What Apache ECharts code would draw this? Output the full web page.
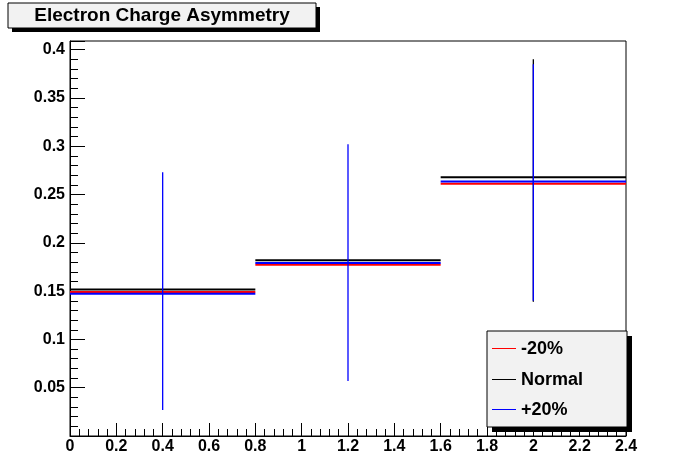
<!DOCTYPE html>
<html>
<head>
<meta charset="utf-8">
<script src="https://cdn.jsdelivr.net/npm/echarts@6/dist/echarts.min.js"></script>
<style>html,body{margin:0;background:#fff}#chartDom{width:696px;height:474px}</style>
</head>
<body>
<div id="chartDom"></div>
<script>
// bins: [low edge, high edge]
const binEdges = [[0, 0.8], [0.8, 1.6], [1.6, 2.4]];
const minus20 = [0.1492, 0.1772, 0.2612];
const normal = [0.1517, 0.182, 0.268];
const normalErrLo = [null, null, 0.139];
const normalErrHi = [null, null, 0.390];
const plus20 = [0.1472, 0.1792, 0.2634];
const plus20ErrLo = [0.027, 0.057, 0.140];
const plus20ErrHi = [0.273, 0.302, 0.385];

const font = '"Liberation Sans", Arial, sans-serif';

function binSeries(name, color, vals, lo, hi, z) {
  const data = binEdges.map((b, i) => [b[0], b[1], vals[i], lo ? lo[i] : null, hi ? hi[i] : null]);
  return {
    name, type: 'custom', z, data,
    renderItem: (params, api) => {
      const x0 = api.value(0), x1 = api.value(1), y = api.value(2);
      const a = api.coord([x0, y]), b = api.coord([x1, y]);
      const children = [{ type: 'line', shape: { x1: a[0], y1: a[1], x2: b[0], y2: b[1] }, style: { stroke: color, lineWidth: 2 } }];
      const elo = api.value(3), ehi = api.value(4);
      if (!isNaN(elo) && elo !== null && !isNaN(ehi)) {
        const xm = (x0 + x1) / 2;
        const p = api.coord([xm, elo]), q = api.coord([xm, ehi]);
        children.push({ type: 'line', shape: { x1: p[0], y1: p[1], x2: q[0], y2: q[1] }, style: { stroke: color, lineWidth: 1.3 } });
      }
      return { type: 'group', children };
    }
  };
}

const chart = echarts.init(document.getElementById('chartDom'));
chart.setOption({
  animation: false,
  backgroundColor: '#fff',
  grid: { left: 70, right: 70, top: 41, bottom: 38, show: true, borderColor: '#000', borderWidth: 1 },
  xAxis: {
    type: 'value', min: 0, max: 2.4, interval: 0.2,
    axisLine: { onZero: false, lineStyle: { color: '#000' } },
    axisTick: { inside: true, length: 13, lineStyle: { color: '#000' } },
    minorTick: { show: true, splitNumber: 5, length: 7, lineStyle: { color: '#000' } },
    splitLine: { show: false },
    axisLabel: { color: '#000', fontFamily: font, fontWeight: 'bold', fontSize: 16, margin: 3,
      formatter: v => String(Math.round(v * 10) / 10) }
  },
  yAxis: {
    type: 'value', min: 0, max: 0.409, interval: 0.05,
    axisLine: { show: true, onZero: false, lineStyle: { color: '#000' } },
    axisTick: { show: true, inside: true, length: 15, lineStyle: { color: '#000' } },
    minorTick: { show: true, splitNumber: 5, length: 8, lineStyle: { color: '#000' } },
    splitLine: { show: false },
    axisLabel: { color: '#000', fontFamily: font, fontWeight: 'bold', fontSize: 16, margin: 5,
      formatter: v => (v === 0 || v > 0.405) ? '' : String(Math.round(v * 100) / 100) }
  },
  series: [
    binSeries('-20%', '#ff0000', minus20, null, null, 2),
    binSeries('Normal', '#000000', normal, normalErrLo, normalErrHi, 3),
    binSeries('+20%', '#0000ff', plus20, plus20ErrLo, plus20ErrHi, 4)
  ],
  graphic: [
    { type: 'rect', shape: { x: 12, y: 7, width: 308, height: 25 }, style: { fill: '#000' }, z: 10 },
    { type: 'rect', shape: { x: 8, y: 3, width: 308, height: 25 }, style: { fill: '#f2f2f2', stroke: '#000', lineWidth: 1 }, z: 11 },
    { type: 'text', x: 162, y: 15.5, style: { text: 'Electron Charge Asymmetry', fill: '#000', font: 'bold 19px ' + font, align: 'center', verticalAlign: 'middle' }, z: 12 },
    { type: 'rect', shape: { x: 492, y: 336, width: 140, height: 96 }, style: { fill: '#000' }, z: 10 },
    { type: 'rect', shape: { x: 487, y: 331, width: 140, height: 96 }, style: { fill: '#f2f2f2', stroke: '#000', lineWidth: 1 }, z: 11 },
    { type: 'line', shape: { x1: 492, y1: 348.5, x2: 516, y2: 348.5 }, style: { stroke: '#ff0000', lineWidth: 1 }, z: 12 },
    { type: 'text', x: 521, y: 349, style: { text: '-20%', fill: '#000', font: 'bold 18px ' + font, verticalAlign: 'middle' }, z: 12 },
    { type: 'line', shape: { x1: 492, y1: 379.5, x2: 516, y2: 379.5 }, style: { stroke: '#000', lineWidth: 1 }, z: 12 },
    { type: 'text', x: 521, y: 380, style: { text: 'Normal', fill: '#000', font: 'bold 18px ' + font, verticalAlign: 'middle' }, z: 12 },
    { type: 'line', shape: { x1: 492, y1: 409.5, x2: 516, y2: 409.5 }, style: { stroke: '#0000ff', lineWidth: 1 }, z: 12 },
    { type: 'text', x: 521, y: 410, style: { text: '+20%', fill: '#000', font: 'bold 18px ' + font, verticalAlign: 'middle' }, z: 12 }
  ]
});
</script>
</body>
</html>
